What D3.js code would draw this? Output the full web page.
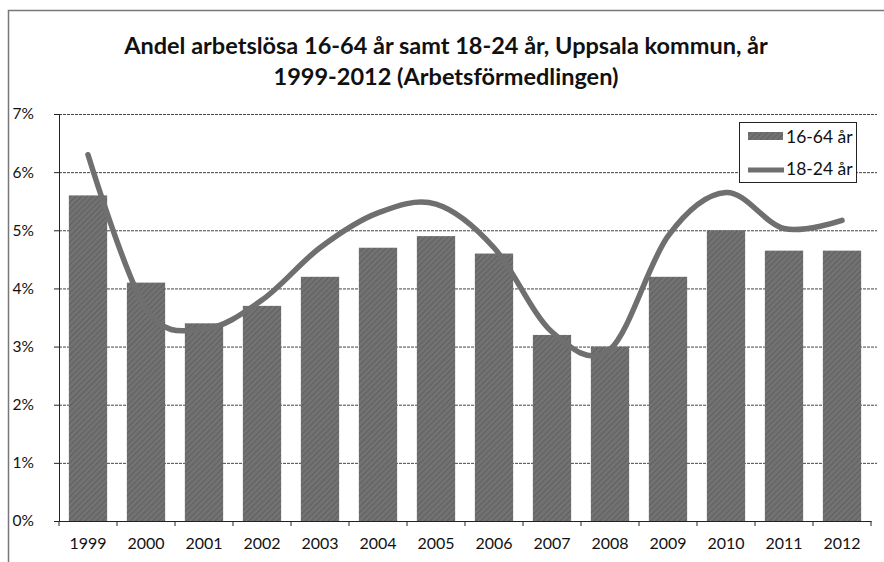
<!DOCTYPE html>
<html>
<head>
<meta charset="utf-8">
<script src="https://cdn.jsdelivr.net/npm/d3@7"></script>
<style>
  html, body { margin: 0; padding: 0; background: #fff; }
  svg { display: block; }
  text { font-family: Lato, "Open Sans", sans-serif; fill: #111; }
</style>
</head>
<body>
<svg id="chart" width="884" height="562"></svg>
<script>
const years = ["1999","2000","2001","2002","2003","2004","2005","2006","2007","2008","2009","2010","2011","2012"];
const bars1664 = [5.6, 4.1, 3.4, 3.7, 4.2, 4.7, 4.9, 4.6, 3.2, 3.0, 4.2, 5.0, 4.65, 4.65];
const line1824 = [6.3, 3.65, 3.3, 3.8, 4.7, 5.3, 5.45, 4.7, 3.25, 2.95, 4.9, 5.65, 5.03, 5.17];
const yTicks = [0, 1, 2, 3, 4, 5, 6, 7];
const seriesNames = ["16-64 år", "18-24 år"];
const titleLines = ["Andel arbetslösa 16-64 år samt 18-24 år, Uppsala kommun, år", "1999-2012 (Arbetsförmedlingen)"];

const svg = d3.select("#chart");

// pattern for scanned hatched bars
const defs = svg.append("defs");
const pat = defs.append("pattern").attr("id", "hatch").attr("patternUnits", "userSpaceOnUse")
  .attr("width", 4).attr("height", 4).attr("patternTransform", "rotate(45)");
pat.append("rect").attr("width", 4).attr("height", 4).attr("fill", "#727272");
pat.append("line").attr("x1", 0).attr("y1", 0).attr("x2", 0).attr("y2", 4)
  .attr("stroke", "#585858").attr("stroke-width", 1.4);

// outer frame
svg.append("rect").attr("x", 8.5).attr("y", 10.5).attr("width", 900).attr("height", 600)
  .attr("fill", "none").attr("stroke", "#777").attr("stroke-width", 1.5);

const plotL = 59, plotR = 871, plotT = 114, plotB = 521;
const x = d3.scaleBand().domain(years).range([plotL, plotR]).paddingInner(0.34).paddingOuter(0.17);
const y = d3.scaleLinear().domain([0, 7]).range([plotB, plotT]);

// title
svg.append("g").selectAll("text").data(titleLines).join("text")
  .attr("x", 446).attr("y", (d, i) => 54 + i * 31)
  .attr("text-anchor", "middle")
  .style("font-size", "23.5px").style("font-weight", "bold")
  .text(d => d);

// gridlines
svg.append("g").selectAll("line").data(yTicks.filter(t => t > 0)).join("line")
  .attr("x1", plotL).attr("x2", plotR + 6)
  .attr("y1", d => y(d) + 0.5).attr("y2", d => y(d) + 0.5)
  .attr("stroke", "#444").attr("stroke-width", 1).attr("stroke-dasharray", "3,1");

// bars
svg.append("g").selectAll("rect").data(years).join("rect")
  .attr("x", d => x(d))
  .attr("y", (d, i) => y(bars1664[i]))
  .attr("width", x.bandwidth())
  .attr("height", (d, i) => plotB - y(bars1664[i]))
  .attr("fill", "url(#hatch)");

// line
const lineGen = d3.line()
  .x((d, i) => x(years[i]) + x.bandwidth() / 2)
  .y(d => y(d))
  .curve(d3.curveCardinal.tension(0));
svg.append("path").datum(line1824)
  .attr("d", lineGen)
  .attr("fill", "none").attr("stroke", "#6f6f6f").attr("stroke-width", 5.5)
  .attr("stroke-linecap", "round");

// y axis
const yAxis = d3.axisLeft(y).tickValues(yTicks).tickFormat(d => d + "%").tickSize(5).tickPadding(20);
const gy = svg.append("g").attr("transform", `translate(${plotL},0)`).call(yAxis);
gy.select(".domain").attr("stroke", "#222");
gy.selectAll(".tick line").attr("stroke", "#222");
gy.selectAll("text").style("font-size", "15.5px").attr("fill", "#111");

// x axis
const xAxis = d3.axisBottom(x).tickSize(0).tickPadding(17);
const gx = svg.append("g").attr("transform", `translate(0,${plotB})`).call(xAxis);
gx.select(".domain").attr("stroke", "#222");
gx.selectAll("text").style("font-size", "16px").attr("fill", "#111");
// boundary ticks
const bounds = years.map(d => x(d) - x.step() * x.paddingInner() / 2).concat([plotR]);
gx.append("g").selectAll("line").data(bounds).join("line")
  .attr("x1", d => d).attr("x2", d => d).attr("y1", 0).attr("y2", 5)
  .attr("stroke", "#222");

// legend
const lg = svg.append("g");
lg.append("rect").attr("x", 739.5).attr("y", 122.5).attr("width", 117).attr("height", 60)
  .attr("fill", "#fff").attr("stroke", "#222").attr("stroke-width", 1);
lg.append("rect").attr("x", 748).attr("y", 132).attr("width", 35).attr("height", 8).attr("fill", "url(#hatch)");
lg.append("line").attr("x1", 748).attr("x2", 784).attr("y1", 170).attr("y2", 170)
  .attr("stroke", "#6f6f6f").attr("stroke-width", 5);
lg.selectAll("text.lbl").data(seriesNames).join("text").attr("class", "lbl")
  .attr("x", 786).attr("y", (d, i) => 143 + i * 32)
  .style("font-size", "17.5px").text(d => d);
</script>
</body>
</html>
